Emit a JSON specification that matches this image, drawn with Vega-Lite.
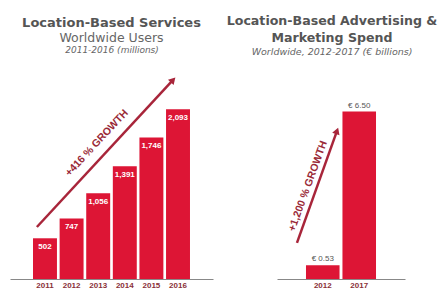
{
  "$schema": "https://vega.github.io/schema/vega-lite/v6.json",
  "padding": {"left": 10, "top": 14, "right": 0, "bottom": 0},
  "background": "white",
  "spacing": 64,
  "bounds": "flush",
  "config": {
    "view": {"stroke": null},
    "font": "Liberation Sans",
    "title": {"font": "DejaVu Sans", "subtitleFont": "DejaVu Sans"}
  },
  "datasets": {
    "users": [
      {"year": "2011", "value": 502, "label": "502"},
      {"year": "2012", "value": 747, "label": "747"},
      {"year": "2013", "value": 1056, "label": "1,056"},
      {"year": "2014", "value": 1391, "label": "1,391"},
      {"year": "2015", "value": 1746, "label": "1,746"},
      {"year": "2016", "value": 2093, "label": "2,093"}
    ],
    "usersArrow": [
      {"part": "start", "ax": 2010.64, "ay": 641},
      {"part": "end", "ax": 2015.86, "ay": 2454}
    ],
    "usersNote": [{"ax": 2012.94, "ay": 1677, "note": "+416 % GROWTH"}],
    "spend": [
      {"year": "2012", "value": 0.53, "label": "€ 0.53"},
      {"year": "2017", "value": 6.5, "label": "€ 6.50"}
    ],
    "spendArrow": [
      {"part": "start", "ax": -0.708, "ay": 1.4},
      {"part": "end", "ax": 0.39, "ay": 5.75}
    ],
    "spendNote": [{"ax": -0.406, "ay": 3.6, "note": "+1,200 % GROWTH"}]
  },
  "hconcat": [
    {
      "width": 203,
      "height": 219,
      "title": {
        "text": "Location-Based Services",
        "subtitle": "Worldwide Users",
        "fontSize": 13,
        "fontWeight": "bold",
        "color": "#555555",
        "subtitleFontSize": 12.5,
        "subtitleColor": "#666666",
        "subtitleFontWeight": "normal",
        "subtitlePadding": 2,
        "offset": 1
      },
      "resolve": {"scale": {"x": "independent"}, "axis": {"x": "independent"}},
      "layer": [
        {
          "data": {"name": "users"},
          "encoding": {
            "x": {
              "field": "year", "type": "nominal",
              "scale": {"paddingInner": 0.1, "paddingOuter": 0.865},
              "axis": {"title": null, "labelAngle": 0, "ticks": false, "labelFontSize": 8, "labelFontWeight": "bold", "labelColor": "#8a3038", "domainColor": "#888888", "labelPadding": 2}
            },
            "y": {"field": "value", "type": "quantitative", "scale": {"domain": [0, 2700]}, "axis": null}
          },
          "layer": [
            {"mark": {"type": "bar", "color": "#dd1535"}},
            {
              "mark": {"type": "text", "color": "white", "fontSize": 8, "fontWeight": "bold", "baseline": "top", "dy": 5},
              "encoding": {"text": {"field": "label"}}
            }
          ]
        },
        {
          "encoding": {
            "x": {"field": "ax", "type": "quantitative", "scale": {"domain": [2009.61, 2017.39]},
              "axis": {"orient": "top", "title": "2011-2016 (millions)", "labels": false, "ticks": false, "domain": false, "grid": false, "titleFont": "DejaVu Sans", "titleFontStyle": "italic", "titleFontWeight": "normal", "titleFontSize": 9, "titleColor": "#666666", "titlePadding": 6}},
            "y": {"field": "ay", "type": "quantitative", "scale": {"domain": [0, 2700]}, "axis": null}
          },
          "layer": [
            {
              "data": {"name": "usersArrow"},
              "mark": {"type": "line", "color": "#a8253a", "strokeWidth": 2.5}
            },
            {
              "data": {"name": "usersArrow"},
              "transform": [{"filter": "datum.part == 'end'"}],
              "mark": {"type": "point", "shape": "triangle-up", "filled": true, "opacity": 1, "size": 60, "angle": 43, "color": "#a8253a"}
            },
            {
              "data": {"name": "usersNote"},
              "mark": {"type": "text", "angle": -47, "fontSize": 10.5, "fontWeight": "bold", "color": "#9a2a38"},
              "encoding": {"text": {"field": "note"}}
            }
          ]
        }
      ]
    },
    {
      "width": 128,
      "height": 219,
      "title": {
        "text": ["Location-Based Advertising &", "Marketing Spend"],
        "subtitle": "Worldwide, 2012-2017 (€ billions)",
        "fontSize": 12.6,
        "fontWeight": "bold",
        "lineHeight": 17,
        "color": "#555555",
        "subtitleFontSize": 9.5,
        "subtitleFontStyle": "italic",
        "subtitleColor": "#666666",
        "subtitlePadding": 2,
        "offset": 4,
        "dx": -9
      },
      "resolve": {"scale": {"x": "independent"}, "axis": {"x": "independent"}},
      "layer": [
        {
          "data": {"name": "spend"},
          "encoding": {
            "x": {
              "field": "year", "type": "nominal",
              "scale": {"paddingInner": 0.08, "paddingOuter": 0.795},
              "axis": {"title": null, "labelAngle": 0, "ticks": false, "labelFontSize": 8, "labelFontWeight": "bold", "labelColor": "#8a3038", "domainColor": "#888888", "labelPadding": 2}
            },
            "y": {"field": "value", "type": "quantitative", "scale": {"domain": [0, 8.5]}, "axis": null}
          },
          "layer": [
            {"mark": {"type": "bar", "color": "#dd1535"}},
            {
              "mark": {"type": "text", "color": "#555555", "fontSize": 8, "baseline": "bottom", "dy": -2},
              "encoding": {"text": {"field": "label"}}
            }
          ]
        },
        {
          "encoding": {
            "x": {"field": "ax", "type": "quantitative", "scale": {"domain": [-1.256, 2.256]}, "axis": null},
            "y": {"field": "ay", "type": "quantitative", "scale": {"domain": [0, 8.5]}, "axis": null}
          },
          "layer": [
            {
              "data": {"name": "spendArrow"},
              "mark": {"type": "line", "color": "#a8253a", "strokeWidth": 2.5}
            },
            {
              "data": {"name": "spendArrow"},
              "transform": [{"filter": "datum.part == 'end'"}],
              "mark": {"type": "point", "shape": "triangle-up", "filled": true, "opacity": 1, "size": 60, "angle": 20, "color": "#a8253a"}
            },
            {
              "data": {"name": "spendNote"},
              "mark": {"type": "text", "angle": -70, "fontSize": 10.5, "fontWeight": "bold", "color": "#9a2a38"},
              "encoding": {"text": {"field": "note"}}
            }
          ]
        }
      ]
    }
  ]
}
